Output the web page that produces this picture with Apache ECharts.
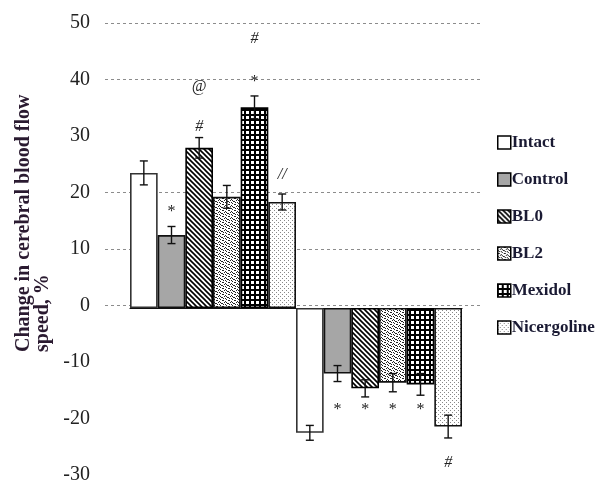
<!DOCTYPE html>
<html>
<head>
<meta charset="utf-8">
<script src="https://cdn.jsdelivr.net/npm/echarts@6/dist/echarts.min.js"></script>
<style>
  html, body { margin: 0; padding: 0; background: #fff; }
  #chart { width: 600px; height: 485px; }
</style>
</head>
<body>
<div id="chart"></div>
<script>
// two measurement phases, bars grouped per phase
const categories = ['Phase 1', 'Phase 2'];
const seriesNames = ['Intact', 'Control', 'BL0', 'BL2', 'Mexidol', 'Nicergoline'];

const intact = [23.7, -21.9];
const control = [12.8, -11.5];
const bl0 = [28.1, -14.1];
const bl2 = [19.5, -13.1];
const mexidol = [35.2, -13.4];
const nicergoline = [18.6, -20.8];

const intactErr = [2.1, 1.3];
const controlErr = [1.5, 1.4];
const bl0Err = [1.8, 1.5];
const bl2Err = [2.0, 1.6];
const mexidolErr = [2.0, 1.9];
const nicergolineErr = [1.4, 2.0];

// significance marks: [category index, bar index, y value, text]
const marks = [
  [0, 1, 16.9, '*'],
  [0, 2, 31.8, '#'],
  [0, 2, 38.8, '@'],
  [0, 4, 39.7, '*'],
  [0, 4, 47.3, '#'],
  [0, 5, 23.3, '//'],
  [1, 1, -17.9, '*'],
  [1, 2, -17.9, '*'],
  [1, 3, -17.9, '*'],
  [1, 4, -17.9, '*'],
  [1, 5, -27.2, '#']
];

const yTicks = [-30, -20, -10, 0, 10, 20, 30, 40, 50];

const values = [intact, control, bl0, bl2, mexidol, nicergoline];
const errors = [intactErr, controlErr, bl0Err, bl2Err, mexidolErr, nicergolineErr];

function makePattern(size, bg, draw) {
  const c = document.createElement('canvas');
  c.width = size;
  c.height = size;
  const ctx = c.getContext('2d');
  ctx.fillStyle = bg;
  ctx.fillRect(0, 0, size, size);
  draw(ctx);
  return { image: c, repeat: 'repeat' };
}

const stripes = makePattern(5, '#fff', ctx => {
  ctx.strokeStyle = '#000';
  ctx.lineWidth = 1.6;
  ctx.beginPath();
  ctx.moveTo(-1, -1); ctx.lineTo(6, 6);
  ctx.moveTo(-1, 4); ctx.lineTo(1, 6);
  ctx.moveTo(4, -1); ctx.lineTo(6, 1);
  ctx.stroke();
});

const speckle = makePattern(6, '#fff', ctx => {
  ctx.fillStyle = '#222';
  [[0, 0], [1, 0], [3, 1], [4, 2], [0, 3], [1, 4], [3, 4], [4, 5], [2, 2], [5, 3]].forEach(p => {
    ctx.fillRect(p[0], p[1], 1, 1);
  });
});

const checker = makePattern(10, '#000', ctx => {
  ctx.fillStyle = '#fff';
  [[1, 1], [6, 1], [1, 6], [6, 6]].forEach(p => ctx.fillRect(p[0], p[1], 3, 3));
});

const dots = makePattern(4, '#fff', ctx => {
  ctx.fillStyle = '#888';
  ctx.fillRect(0, 0, 1, 1);
  ctx.fillRect(2, 2, 1, 1);
});

const fills = ['#fff', '#a6a6a6', stripes, speckle, checker, dots];
const borders = ['#333', '#111', '#000', '#111', '#000', '#111'];

const serif = '"Liberation Serif", "DejaVu Serif", serif';

const barSeries = seriesNames.map((name, k) => ({
  name: name,
  type: 'bar',
  xAxisIndex: 1,
  yAxisIndex: 1,
  barGap: '0%',
  barCategoryGap: '0%',
  data: values[k],
  itemStyle: {
    color: fills[k],
    borderColor: borders[k],
    borderWidth: 1.6
  }
}));

const errorData = [];
values.forEach((vals, k) => {
  vals.forEach((v, i) => {
    errorData.push([i, v - errors[k][i], v + errors[k][i], k]);
  });
});

function renderError(params, api) {
  const cat = api.value(0);
  const k = api.value(3);
  const band = api.size([1, 0])[0];
  const bw = band / seriesNames.length;
  const x = api.coord([cat, 0])[0] + (k - 2.5) * bw;
  const yLo = api.coord([cat, api.value(1)])[1];
  const yHi = api.coord([cat, api.value(2)])[1];
  const cap = 4;
  const style = { stroke: '#111', lineWidth: 1.4 };
  return {
    type: 'group',
    children: [
      { type: 'line', shape: { x1: x, y1: yLo, x2: x, y2: yHi }, style: style },
      { type: 'line', shape: { x1: x - cap, y1: yLo, x2: x + cap, y2: yLo }, style: style },
      { type: 'line', shape: { x1: x - cap, y1: yHi, x2: x + cap, y2: yHi }, style: style }
    ]
  };
}

function renderMark(params, api) {
  const m = marks[params.dataIndex];
  const band = api.size([1, 0])[0];
  const bw = band / seriesNames.length;
  const pt = api.coord([m[0], m[2]]);
  const x = pt[0] + (m[1] - 2.5) * bw;
  return {
    type: 'text',
    x: x,
    y: pt[1],
    style: {
      text: m[3],
      fill: '#222',
      font: (m[3] === '*' ? '' : 'italic ') + '16px ' + serif,
      align: 'center',
      verticalAlign: 'middle'
    }
  };
}

// grid lines only at these ticks, as in the original
const gridColors = yTicks.map(v => (v >= 0 && v !== 30) ? '#8c8c8c' : 'rgba(0,0,0,0)');

const chart = echarts.init(document.getElementById('chart'));

const option = {
  animation: false,
  backgroundColor: '#fff',
  grid: [
    { left: 105, right: 117, top: 23, bottom: 6 },
    { left: 130, right: 138, top: 23, bottom: 6 }
  ],
  legend: {
    orient: 'vertical',
    left: 497,
    top: 134,
    padding: 0,
    itemWidth: 13,
    itemHeight: 13,
    itemGap: 20,
    icon: 'rect',
    data: seriesNames,
    itemStyle: { borderColor: '#000', borderWidth: 1.5 },
    textStyle: {
      fontFamily: serif,
      fontWeight: 'bold',
      fontSize: 17,
      lineHeight: 16,
      color: '#1a1a33',
      padding: [0, 0, 0, -4]
    }
  },
  graphic: [{
    type: 'text',
    x: 33,
    y: 352,
    rotation: Math.PI / 2,
    style: {
      text: 'Change in cerebral blood flow\nspeed, %',
      font: 'bold 20px ' + serif,
      lineHeight: 19,
      fill: '#2a1a30',
      align: 'left',
      verticalAlign: 'middle'
    }
  }],
  xAxis: [
    { type: 'category', gridIndex: 0, data: [''], show: false },
    {
      type: 'category',
      gridIndex: 1,
      data: categories,
      axisLine: { onZero: true, lineStyle: { color: '#111', width: 1.2 } },
      axisTick: { show: false },
      axisLabel: { show: false }
    }
  ],
  yAxis: [
    {
      type: 'value',
      gridIndex: 0,
      min: -30,
      max: 50,
      interval: 10,
      axisLine: { show: false },
      axisTick: { show: false },
      axisLabel: {
        fontFamily: serif,
        fontSize: 20,
        color: '#222',
        margin: 15
      },
      splitLine: {
        show: true,
        lineStyle: { color: gridColors, type: [3, 3], width: 1 }
      }
    },
    {
      type: 'value',
      gridIndex: 1,
      min: -30,
      max: 50,
      interval: 10,
      show: false,
      splitLine: { show: false }
    }
  ],
  series: barSeries.concat([
    {
      type: 'custom',
      name: 'error',
      xAxisIndex: 1,
      yAxisIndex: 1,
      renderItem: renderError,
      data: errorData,
      encode: { x: 0, y: [1, 2] },
      z: 10
    },
    {
      type: 'custom',
      name: 'marks',
      xAxisIndex: 1,
      yAxisIndex: 1,
      renderItem: renderMark,
      data: marks.map(m => [m[0], m[2]]),
      encode: { x: 0, y: 1 },
      z: 11
    }
  ])
};

chart.setOption(option);
</script>
</body>
</html>
